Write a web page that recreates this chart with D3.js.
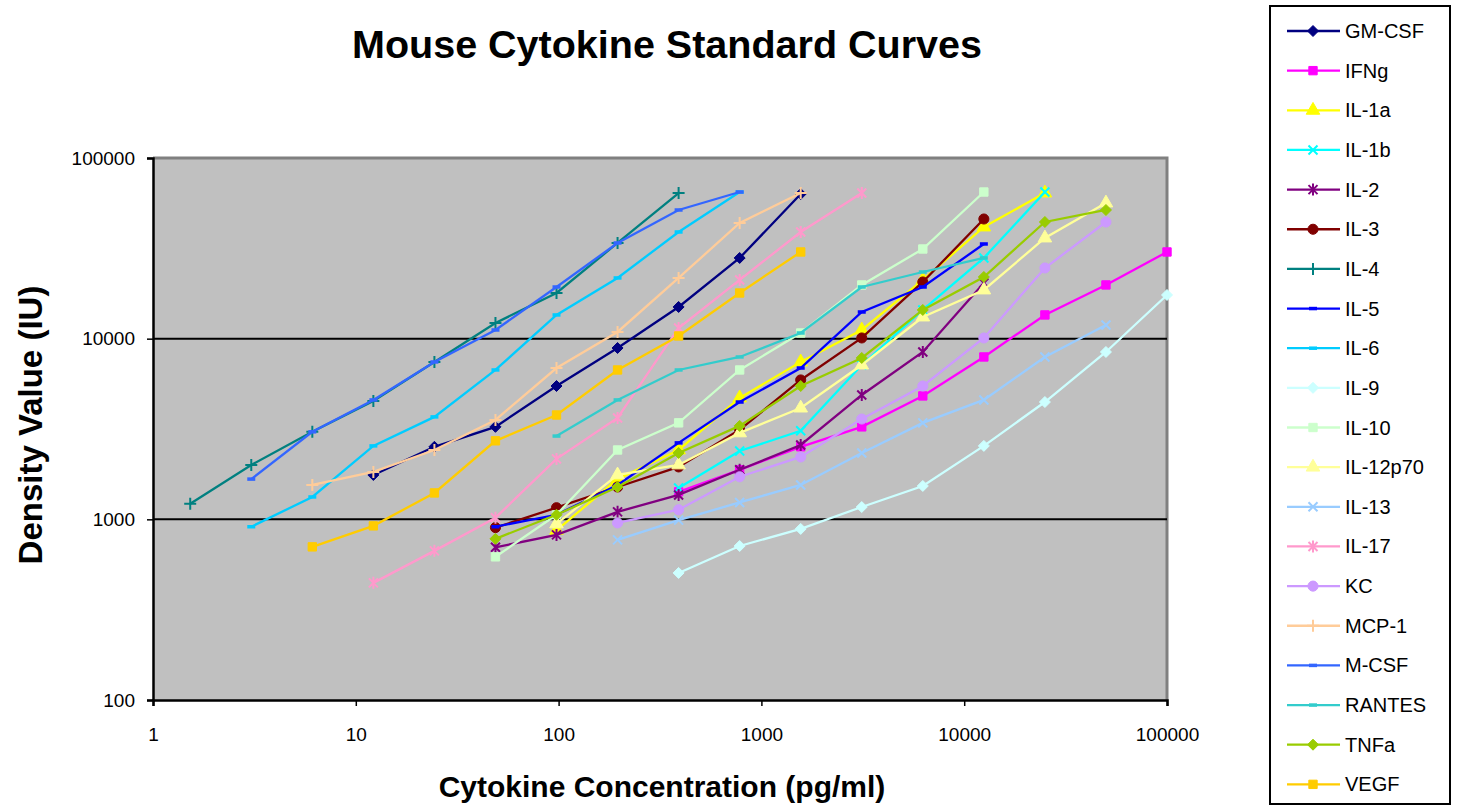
<!DOCTYPE html>
<html><head><meta charset="utf-8">
<script src="https://cdn.jsdelivr.net/npm/d3@7"></script>
<style>html,body{margin:0;padding:0;background:#fff;} svg{display:block;font-family:"Liberation Sans",Arial,sans-serif;}</style>
</head><body><svg id="chart" width="1458" height="806"></svg>
<script>
// concentrations (pg/ml), two-fold dilutions
const concentrations = [1.52587890625, 3.0517578125, 6.103515625, 12.20703125, 24.4140625, 48.828125, 97.65625, 195.3125, 390.625, 781.25, 1562.5, 3125, 6250, 12500, 25000, 50000, 100000];
const seriesNames = ["GM-CSF","IFNg","IL-1a","IL-1b","IL-2","IL-3","IL-4","IL-5","IL-6","IL-9","IL-10","IL-12p70","IL-13","IL-17","KC","MCP-1","M-CSF","RANTES","TNFa","VEGF"];
const n = null;
const gmCsf   = [n,n,n,1760,2520,3250,5470,8880,14980,27970,63200,n,n,n,n,n,n];
const ifng    = [n,n,n,n,n,n,n,n,1420,1880,2520,3250,4820,7920,13530,19830,30190];
const il1a    = [n,n,n,n,n,n,870,1670,2420,4700,7430,11170,21130,41510,64000,n,n];
const il1b    = [n,n,n,n,n,n,n,n,1490,2390,3090,7150,14420,27970,64820,n,n];
const il2     = [n,n,n,n,n,700,820,1100,1365,1880,2580,4880,8440,20330,n,n,n];
const il3     = [n,n,n,n,n,900,1160,1510,1950,3130,5910,10090,20600,45960,n,n,n];
const il4     = [1220,2000,3050,4520,7430,12210,17900,33860,64000,n,n,n,n,n,n,n,n];
const il5     = [n,n,n,n,n,910,1060,1550,2650,4460,6880,14050,19320,33430,n,n,n];
const il6     = [n,910,1330,2550,3690,6710,13530,21680,38950,64820,n,n,n,n,n,n,n];
const il9     = [n,n,n,n,n,n,n,n,505,712,885,1170,1530,2550,4460,8440,17450];
const il10    = [n,n,n,n,n,620,1060,2420,3420,6710,10750,19830,31360,64820,n,n,n];
const il12p70 = [n,n,n,n,n,n,943,1761,2000,3010,4130,7150,13180,18600,36080,56360,n];
const il13    = [n,n,n,n,n,n,n,770,990,1240,1550,2330,3420,4580,7920,11900,n];
const il17    = [n,n,n,445,669,1020,2160,3640,11460,21130,38950,64000,n,n,n,n,n];
const kc      = [n,n,n,n,n,n,n,955,1130,1720,2215,3590,5470,10090,24620,44240,n];
const mcp1    = [n,n,1550,1830,2420,3550,6880,10890,21680,43690,64000,n,n,n,n,n,n];
const mCsf    = [n,1670,3050,4580,7430,11170,19320,33860,51550,64820,n,n,n,n,n,n,n];
const rantes  = [n,n,n,n,n,n,2890,4580,6710,7920,10750,19320,23390,27970,n,n,n];
const tnfa    = [n,n,n,n,n,780,1060,1510,2330,3290,5470,7820,14420,21950,44240,51550,n];
const vegf    = [n,n,704,920,1400,2720,3780,6710,10350,17900,30190,n,n,n,n,n,n];
const seriesValues = [gmCsf,ifng,il1a,il1b,il2,il3,il4,il5,il6,il9,il10,il12p70,il13,il17,kc,mcp1,mCsf,rantes,tnfa,vegf];
const xTicks = [1,10,100,1000,10000,100000];
const yTicks = [100,1000,10000,100000];
const gridValues = [1000,10000];

const seriesColors = ["#000080","#FF00FF","#FFFF00","#00FFFF","#800080","#800000","#008080","#0000FF","#00CCFF","#CCFFFF","#CCFFCC","#FFFF99","#99CCFF","#FF99CC","#CC99FF","#FFCC99","#3366FF","#33CCCC","#99CC00","#FFCC00"];
const seriesMarkers = ["diamond","square","triangle","x","star","circle","plus","dash","dash","diamond","square","triangle","x","star","circle","plus","dash","dash","diamond","square"];

const svg = d3.select("#chart");
const L = 153, R = 1167, T = 158, B = 700;
const x = d3.scaleLog().domain([1,100000]).range([L,R]);
const y = d3.scaleLog().domain([100,100000]).range([B,T]);

// title
svg.append("text").attr("x",667).attr("y",58).attr("text-anchor","middle")
  .attr("font-size",39.5).attr("font-weight","bold").text("Mouse Cytokine Standard Curves");

// plot area
svg.append("rect").attr("x",L).attr("y",T).attr("width",R-L).attr("height",B-T).attr("fill","#C0C0C0");
svg.append("path").attr("d",`M${L},${T}H${R}V${B}`).attr("fill","none").attr("stroke","#808080").attr("stroke-width",3);

// gridlines
svg.append("g").selectAll("line").data(gridValues).join("line")
  .attr("x1",L).attr("x2",R).attr("y1",d=>y(d)).attr("y2",d=>y(d))
  .attr("stroke","#000").attr("stroke-width",2);

// axes
const fmt = d3.format("d");
const yAxis = svg.append("g").attr("transform",`translate(${L},0)`)
  .call(d3.axisLeft(y).tickValues(yTicks).tickFormat(fmt).tickSize(6).tickPadding(12));
const xAxis = svg.append("g").attr("transform",`translate(0,${B})`)
  .call(d3.axisBottom(x).tickValues(xTicks).tickFormat(fmt).tickSize(6).tickPadding(22));
[yAxis,xAxis].forEach(a=>{
  a.select(".domain").attr("stroke","#000").attr("stroke-width",2.5);
  a.selectAll(".tick line").attr("stroke","#000").attr("stroke-width",1.5);
  a.selectAll(".tick text").attr("font-family","'Liberation Sans',Arial,sans-serif").attr("fill","#000");
});
yAxis.selectAll(".tick text").attr("font-size",19);
xAxis.selectAll(".tick text").attr("font-size",19);

// axis titles
svg.append("text").attr("x",662).attr("y",797).attr("text-anchor","middle")
  .attr("font-size",30).attr("font-weight","bold").text("Cytokine Concentration (pg/ml)");
svg.append("text").attr("transform","translate(42,425) rotate(-90)").attr("text-anchor","middle")
  .attr("font-size",33).attr("font-weight","bold").text("Density Value (IU)");

function markerPath(t){
  switch(t){
    case "diamond": return "M0,-5.5L5.5,0L0,5.5L-5.5,0Z";
    case "square": return d3.symbol(d3.symbolSquare,70)();
    case "triangle": return d3.symbol(d3.symbolTriangle,80)();
    case "circle": return d3.symbol(d3.symbolCircle,80)();
    case "x": return "M-4.5,-4.5L4.5,4.5M-4.5,4.5L4.5,-4.5";
    case "star": return "M-4.5,-4.5L4.5,4.5M-4.5,4.5L4.5,-4.5M0,-6L0,6";
    case "plus": return "M-6,0L6,0M0,-6L0,6";
    case "dash": return "M-4,0L4,0";
  }
}
const stroked = t => ["x","star","plus","dash"].includes(t);

const line = d3.line().defined(d=>d.v!=null).x(d=>x(d.c)).y(d=>y(d.v));
const plot = svg.append("g");
seriesValues.forEach((vals,i)=>{
  const pts = vals.map((v,j)=>({c:concentrations[j],v}));
  const g = plot.append("g");
  g.append("path").attr("d",line(pts)).attr("fill","none").attr("stroke",seriesColors[i]).attr("stroke-width",2.3);
  const m = seriesMarkers[i];
  g.selectAll("path.m").data(pts.filter(d=>d.v!=null)).join("path").attr("class","m")
    .attr("transform",d=>`translate(${x(d.c)},${y(d.v)})`)
    .attr("d",markerPath(m))
    .attr("fill",stroked(m)?"none":seriesColors[i])
    .attr("stroke",seriesColors[i]).attr("stroke-width",stroked(m)?(m==="dash"?3.5:2):1);
});

// legend
const leg = svg.append("g");
leg.append("rect").attr("x",1270).attr("y",6).attr("width",180).attr("height",798)
  .attr("fill","#fff").attr("stroke","#000").attr("stroke-width",2);
seriesNames.forEach((name,i)=>{
  const yy = 31 + i*39.65;
  const m = seriesMarkers[i];
  leg.append("line").attr("x1",1287).attr("x2",1340).attr("y1",yy).attr("y2",yy)
    .attr("stroke",seriesColors[i]).attr("stroke-width",2.3);
  leg.append("path").attr("transform",`translate(1313,${yy})`).attr("d",markerPath(m))
    .attr("fill",stroked(m)?"none":seriesColors[i])
    .attr("stroke",seriesColors[i]).attr("stroke-width",stroked(m)?(m==="dash"?3.5:2):1);
  leg.append("text").attr("x",1345).attr("y",yy+7).attr("font-size",20).text(name);
});
</script></body></html>
